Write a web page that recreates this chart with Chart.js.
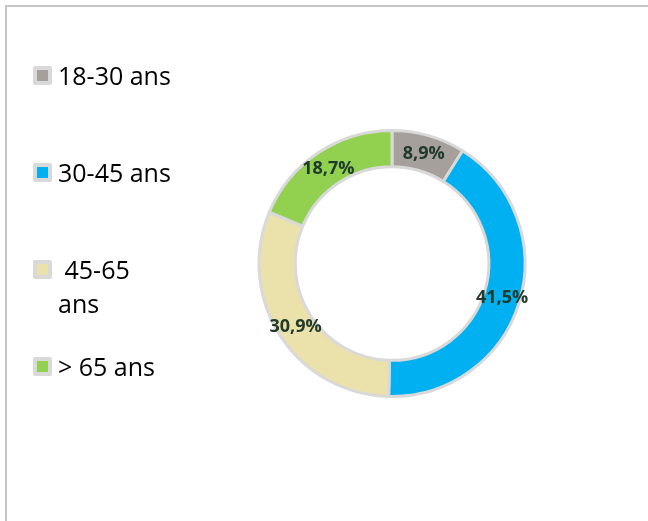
<!DOCTYPE html>
<html lang="fr">
<head>
  <meta charset="UTF-8">
  <title>Répartition par âge</title>
  <script src="https://cdn.jsdelivr.net/npm/chart.js"></script>
  <style>
    html, body { margin: 0; padding: 0; background: #fff; }
    body { width: 648px; height: 521px; position: relative; overflow: hidden; font-family: "Open Sans", Arial, sans-serif; }
    .frame { position: absolute; left: 5px; top: 5px; width: 660px; height: 540px; border-top: 2px solid #c8c5c2; border-left: 2px solid #c8c5c2; }
    #chart { position: absolute; left: 0; top: 0; }
    .legend { position: absolute; left: 0; top: 0; }
    .legend .item { position: absolute; left: 33px; font-size: 25px; color: #000; line-height: 34px; white-space: nowrap; }
    .legend .box { position: absolute; left: 0; width: 11px; height: 11px; border: 4px solid #d9d9d9; border-radius: 2px; }
    .legend .txt { position: absolute; left: 25px; top: 0; }
  </style>
</head>
<body>
  <div class="frame"></div>
  <canvas id="chart" width="648" height="521"></canvas>
  <div class="legend" id="legend"></div>

  <script>
    // données
    const labels = ['18-30 ans', '30-45 ans', ' 45-65\nans', '> 65 ans'];
    const values = [8.9, 41.5, 30.9, 18.7];
    const colors = ['#a5a09c', '#00b0f0', '#ebe1ab', '#92d050'];
    const legendTops = [58, 155, 252, 349];

    // légende à gauche
    const legend = document.getElementById('legend');
    labels.forEach((lab, i) => {
      const item = document.createElement('div');
      item.className = 'item';
      item.style.top = legendTops[i] + 'px';
      const box = document.createElement('div');
      box.className = 'box';
      box.style.top = '8px';
      box.style.background = colors[i];
      const txt = document.createElement('div');
      txt.className = 'txt';
      txt.innerHTML = lab.replace(/^ /, '&nbsp;').replace('\n', '<br>');
      item.appendChild(box);
      item.appendChild(txt);
      legend.appendChild(item);
    });

    // étiquettes de pourcentage sur chaque part
    const pctLabels = {
      id: 'pctLabels',
      afterDatasetsDraw(chart) {
        const ctx = chart.ctx;
        const meta = chart.getDatasetMeta(0);
        ctx.save();
        ctx.font = 'bold 18px "Open Sans", Arial, sans-serif';
        ctx.fillStyle = '#203a2c';
        ctx.textAlign = 'center';
        ctx.textBaseline = 'middle';
        meta.data.forEach((arc, i) => {
          const p = arc.getCenterPoint();
          const txt = values[i].toFixed(1).replace('.', ',') + '%';
          ctx.fillText(txt, p.x, p.y + 1);
        });
        ctx.restore();
      }
    };

    new Chart(document.getElementById('chart'), {
      type: 'doughnut',
      data: {
        labels: labels,
        datasets: [{
          data: values,
          backgroundColor: colors,
          borderColor: '#d9d9d9',
          borderWidth: 3
        }]
      },
      options: {
        responsive: false,
        animation: false,
        cutout: '72.8%',
        layout: { padding: { left: 257, right: 121, top: 129, bottom: 123 } },
        plugins: {
          legend: { display: false },
          tooltip: { enabled: false }
        }
      },
      plugins: [pctLabels]
    });
  </script>
</body>
</html>
